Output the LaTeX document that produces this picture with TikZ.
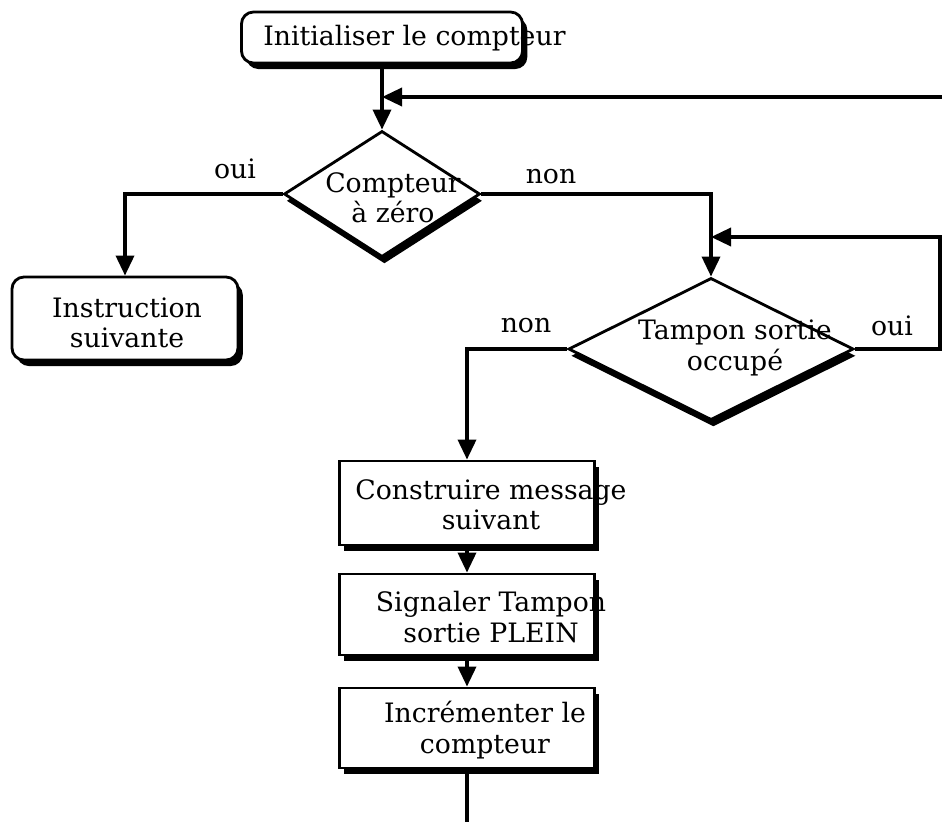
\documentclass[tikz,border=0pt]{standalone}
\usepackage{fontspec}
\setmainfont{DejaVu Serif}
\usetikzlibrary{arrows.meta,positioning,shapes.geometric,shadows}

\begin{document}
\begin{tikzpicture}[x=0.025cm,y=-0.025cm,
    ombre/.style={drop shadow={shadow xshift=0.12cm,shadow yshift=-0.15cm,fill=black,opacity=1}},
    debut/.style={draw,line width=2pt,fill=white,rounded corners=0.3cm,inner sep=0pt,ombre},
    etape/.style={draw,line width=2pt,fill=white,inner sep=0pt,minimum width=6.375cm,ombre},
    test/.style={draw,diamond,line width=2pt,fill=white,inner sep=0pt,
      drop shadow={shadow xshift=0.06cm,shadow yshift=-0.17cm,fill=black,opacity=1}},
    txt/.style={font=\fontsize{19}{21.5}\selectfont,inner sep=0pt,align=center},
    fleche/.style={line width=2.5pt,-{Triangle[length=0.5cm,width=0.45cm]}},
    trait/.style={line width=2.5pt}]
  \useasboundingbox (0,0) rectangle (942,822);
  % shapes
  \node[debut,minimum width=7.025cm,minimum height=1.275cm] (init) at (382,37.5) {};
  \node[test,minimum width=4.9cm,minimum height=3.15cm] (zero) at (382,194) {};
  \node[debut,minimum width=5.65cm,minimum height=2.075cm] (inst) at (125,318.5) {};
  \node[test,minimum width=7.125cm,minimum height=3.55cm] (occ) at (711,349) {};
  \node[etape,minimum height=2.1cm] (msg) at (467,503) {};
  \node[etape,minimum height=2.025cm] (plein) at (467,614.5) {};
  \node[etape,minimum height=2cm] (incr) at (467,728) {};
  % texts
  \node[txt,anchor=base west] (t-init) at (263,45) {Initialiser le compteur};
  \node[txt] (t-zero) at (393,198) {Compteur\\à zéro};
  \node[txt] (t-inst) at (127,323) {Instruction\\suivante};
  \node[txt] (t-occ) at (735,348) {Tampon sortie\\occupé};
  \node[txt] (t-msg) at (491,505) {Construire message\\suivant};
  \node[txt] (t-plein) at (491,617) {Signaler Tampon\\sortie PLEIN};
  \node[txt] (t-incr) at (485,730) {Incrémenter le\\compteur};
  \node[txt] (l-oui1) at (235,169) {oui};
  \node[txt] (l-non1) at (551,177) {non};
  \node[txt] (l-non2) at (526,326) {non};
  \node[txt] (l-oui2) at (892,326) {oui};
  % connectors
  \coordinate (j1) at (382,97);
  \coordinate (r1) at (942,97);
  \coordinate (j2) at (711,237);
  \coordinate (k2) at (940,237);
  \coordinate (fin) at (467,822);
  \draw[fleche] (init.south) -- (zero.north);
  \draw[fleche] (r1) -- (j1);
  \draw[fleche] (zero.west) -| (inst.north);
  \draw[fleche] (zero.east) -| (occ.north);
  \draw[fleche] (occ.east) -| (k2) -- (j2);
  \draw[fleche] (occ.west) -| (msg.north);
  \draw[fleche] (msg) -- (plein);
  \draw[fleche] (plein) -- (incr);
  \draw[trait] (incr.south) -- (fin);
\end{tikzpicture}
\end{document}
